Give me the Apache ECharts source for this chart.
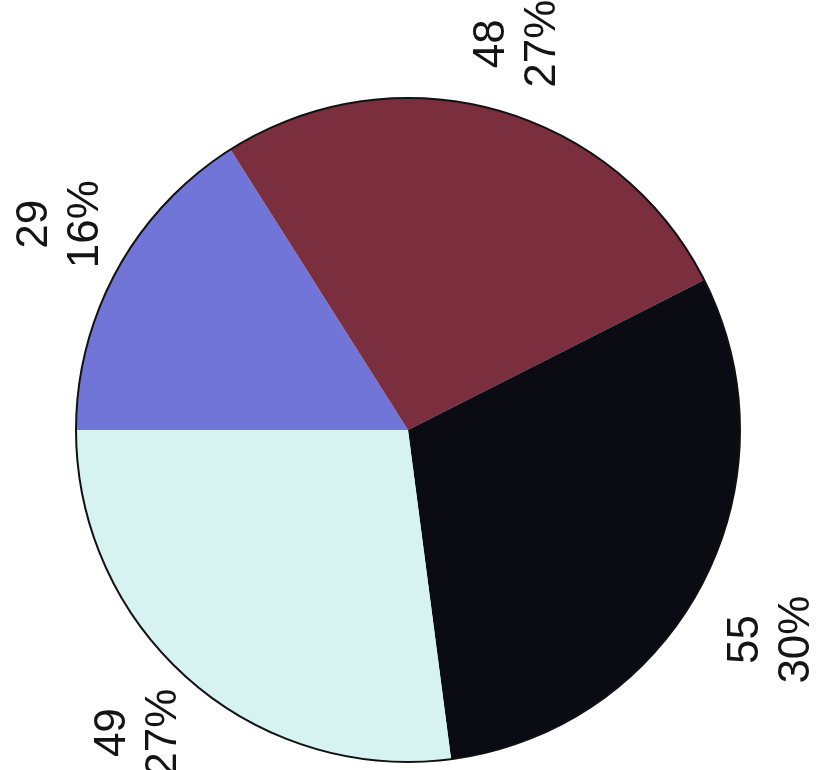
<!DOCTYPE html>
<html>
<head>
<meta charset="utf-8">
<script src="https://cdn.jsdelivr.net/npm/echarts@6/dist/echarts.min.js"></script>
<style>
  html, body { margin: 0; padding: 0; background: #ffffff; }
  #chart { width: 819px; height: 770px; }
</style>
</head>
<body>
<div id="chart"></div>
<script>
// Slice values, clockwise from the 9 o'clock position
const values = [29, 48, 55, 49];
const colors = ['#7175d8', '#7a2e3e', '#0b0c13', '#d6f3f1'];

const pieCenter = [408, 430];
const pieRadius = 332;

// small per-label nudges (in the rotated text's own frame)
const labelNudge = [[9, 10], [-7, 1], [-19, 3], [4, -1]];

const sliceData = values.map((v, i) => ({ value: v, itemStyle: { color: colors[i] } }));

const chart = echarts.init(document.getElementById('chart'), null, { renderer: 'canvas' });

chart.setOption({
  backgroundColor: '#ffffff',
  animation: false,
  series: [
    {
      // filled slices
      type: 'pie',
      center: pieCenter,
      radius: [0, pieRadius],
      startAngle: 180,
      clockwise: true,
      silent: true,
      label: { show: false },
      labelLine: { show: false },
      data: sliceData
    },
    {
      // outer rim
      type: 'pie',
      center: pieCenter,
      radius: [0, pieRadius],
      silent: true,
      label: { show: false },
      labelLine: { show: false },
      itemStyle: { color: 'rgba(0,0,0,0)', borderColor: '#111111', borderWidth: 2 },
      data: [{ value: 1 }]
    },
    {
      // value / percent labels on a transparent ring outside the pie
      type: 'pie',
      center: pieCenter,
      radius: [385, 425],
      startAngle: 180,
      clockwise: true,
      silent: true,
      percentPrecision: 0,
      itemStyle: { color: 'rgba(0,0,0,0)' },
      labelLine: { show: false },
      label: {
        show: true,
        position: 'inside',
        rotate: 90,
        formatter: '{c}\n{d}%',
        fontFamily: '"Liberation Sans", Arial, sans-serif',
        fontSize: 44,
        lineHeight: 51,
        color: '#141414',
        align: 'center',
        verticalAlign: 'middle'
      },
      data: values.map((v, i) => ({ value: v, label: { offset: labelNudge[i] } }))
    }
  ]
});
</script>
</body>
</html>
